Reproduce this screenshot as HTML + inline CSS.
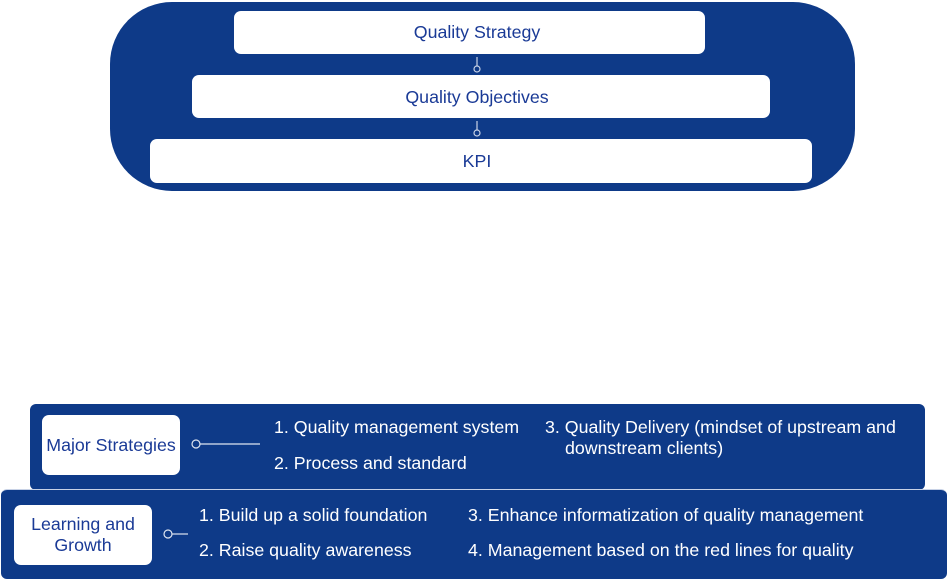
<!DOCTYPE html><html><head><style>
body{margin:0;width:950px;height:580px;background:#fff;position:relative;font-family:"Liberation Sans",sans-serif;overflow:hidden}
.a{position:absolute}
.bl{background:#0e3a88}
.w{background:#fff;color:#1a3a96;display:flex;align-items:center;justify-content:center;text-align:center;border-radius:7px;font-size:17.8px}
.c{position:absolute;left:277px;width:400px;text-align:center;color:#1a3a96;font-size:17.8px;line-height:20px}
.t{color:#fff;font-size:17.8px;position:absolute;line-height:21px;white-space:nowrap}
</style></head><body>
<div class="a bl" style="left:110px;top:2px;width:745px;height:189px;border-radius:62px"></div>
<div class="a w" style="left:234px;top:11px;width:471px;height:43px"></div>
<div class="a w" style="left:192px;top:75px;width:578px;height:43px"></div>
<div class="a w" style="left:150px;top:139px;width:662px;height:44px"></div>
<div class="c" style="top:22px">Quality Strategy</div>
<div class="c" style="top:87px">Quality Objectives</div>
<div class="c" style="top:151px">KPI</div>
<svg class="a" style="left:0;top:0" width="950" height="580">
<g stroke="#c8d2e6" stroke-width="1.2" fill="none">
<line x1="477" y1="57" x2="477" y2="66"/><circle cx="477" cy="69" r="3"/>
<line x1="477" y1="121" x2="477" y2="130"/><circle cx="477" cy="133" r="3"/>
</g></svg>
<div class="a bl" style="left:30px;top:404px;width:895px;height:86px;border-radius:6px"></div>
<div class="a bl" style="left:1px;top:489px;width:946px;height:89px;border-radius:6px;border-top:1px solid #c8d2e6"></div>
<div class="a w" style="left:42px;top:415px;width:138px;height:60px">Major Strategies</div>
<div class="a w" style="left:14px;top:505px;width:138px;height:60px;line-height:21px">Learning and<br>Growth</div>
<svg class="a" style="left:0;top:0" width="950" height="580">
<g stroke="#dfe5f0" stroke-width="1.2" fill="none">
<circle cx="196" cy="444" r="4"/><line x1="200" y1="444" x2="260" y2="444"/>
<circle cx="168" cy="534" r="4"/><line x1="172" y1="534" x2="188" y2="534"/>
</g></svg>
<div class="t" style="left:274px;top:417px">1. Quality management system</div>
<div class="t" style="left:274px;top:453px">2. Process and standard</div>
<div class="t" style="left:545px;top:417px">3. Quality Delivery (mindset of upstream and</div>
<div class="t" style="left:565px;top:438px">downstream clients)</div>
<div class="t" style="left:199px;top:505px">1. Build up a solid foundation</div>
<div class="t" style="left:199px;top:540px">2. Raise quality awareness</div>
<div class="t" style="left:468px;top:505px">3. Enhance informatization of quality management</div>
<div class="t" style="left:468px;top:540px">4. Management based on the red lines for quality</div>
</body></html>
